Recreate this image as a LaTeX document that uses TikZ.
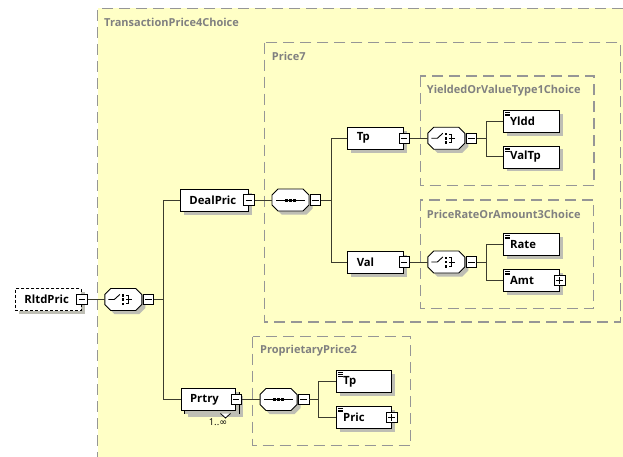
\documentclass[tikz,border=0pt]{standalone}
\usepackage{fontspec}
\setmainfont{Open Sans}
\newfontfamily\dvs{DejaVu Sans}
\usetikzlibrary{shadows}
\definecolor{yel}{RGB}{255,255,198}
\definecolor{dashc}{RGB}{150,150,150}
\definecolor{labc}{RGB}{128,128,128}
\definecolor{shadc}{RGB}{190,190,180}
\definecolor{linec}{RGB}{60,60,45}
\tikzset{
  grp/.style={draw=dashc, line width=1.2pt, dash pattern=on 11pt off 6pt},
  grplab/.style={anchor=west, text=labc, font=\bfseries\fontsize{11}{13}\selectfont, inner sep=0pt},
  elem/.style={draw=black, line width=0.9pt, fill=white, minimum height=22pt, anchor=west,
    align=left, inner xsep=9pt, inner ysep=0pt, font=\bfseries\fontsize{11.3}{13}\selectfont,
    drop shadow={shadow xshift=3.5pt, shadow yshift=-3.5pt, fill=shadc, opacity=1}},
  leaf/.style={elem, inner xsep=7pt,
    path picture={\draw[line width=0.6pt]
      ([shift={(2pt,-2pt)}]path picture bounding box.north west) -- ++(4.5pt,0pt)
      ([shift={(2pt,-3.6pt)}]path picture bounding box.north west) -- ++(4.5pt,0pt)
      ([shift={(2pt,-5.2pt)}]path picture bounding box.north west) -- ++(4.5pt,0pt);}},
  mbox/.style={draw=black, line width=0.7pt, fill=white, minimum size=10.5pt, inner sep=0pt,
    path picture={\draw[line width=0.7pt] ([xshift=2pt]path picture bounding box.west) -- ([xshift=-2pt]path picture bounding box.east);}},
  pbox/.style={draw=black, line width=0.7pt, fill=white, minimum size=10.5pt, inner sep=0pt,
    path picture={\draw[line width=0.7pt] ([xshift=2pt]path picture bounding box.west) -- ([xshift=-2pt]path picture bounding box.east)
      ([yshift=2pt]path picture bounding box.south) -- ([yshift=-2pt]path picture bounding box.north);}},
  compnode/.style={minimum width=37pt, minimum height=22pt, inner sep=0pt},
  conn/.style={draw=linec, line width=1pt},
  symline/.style={line width=0.9pt}
}
\def\octpath{(-12.5,-11) -- (12.5,-11) -- (18.5,-5) -- (18.5,5) -- (12.5,11) -- (-12.5,11) -- (-18.5,5) -- (-18.5,-5) -- cycle}
\newcommand\choicesym{%
  \draw[symline] (-15,0) -- (-9,0) -- (-3.5,-5);
  \fill (-1.5,-5.5) rectangle (1,-3);
  \fill (-1.5,-1.25) rectangle (1,1.25);
  \fill (-1.5,3) rectangle (1,5.5);
  \draw[symline] (2.5,-4.25) -- (5.5,-4.25) -- (5.5,4.25) -- (2.5,4.25);
  \draw[symline] (2.5,0) -- (8.5,0);}
\newcommand\seqsym{%
  \draw[symline] (-14.5,0) -- (14.5,0);
  \fill (-5.5,-1.5) rectangle (-2.5,1.5);
  \fill (-1.5,-1.5) rectangle (1.5,1.5);
  \fill (2.5,-1.5) rectangle (5.5,1.5);}
\newcommand\compo[4]{%
  \begin{scope}[shift={(#2,#3)}]
    \fill[shadc, shift={(3.5,3.5)}] \octpath;
    \draw[line width=0.9pt, fill=white] \octpath;
    \node[compnode] (#1) at (0,0) {};
    #4
  \end{scope}}
\begin{document}
\begin{tikzpicture}[x=1pt, y=-1pt]
\fill[white] (0,0) rectangle (623,457);
\useasboundingbox (0,0) rectangle (623,457);
% groups
\fill[yel] (97.5,8.5) rectangle (623,457);
\draw[grp] (623,8.5) -- (97.5,8.5) -- (97.5,457);
\draw[grp] (264.7,42.7) rectangle (620.7,322);
\draw[grp] (420.3,76) rectangle (594,185.7);
\draw[grp] (420.3,200) rectangle (593.5,308.5);
\draw[grp] (252.7,336.7) rectangle (410.7,445.7);
\node[grplab] (g1) at (104,22.7) {TransactionPrice4Choice};
\node[grplab] (g2) at (271.7,56.7) {Price7};
\node[grplab] (g3) at (426.7,90.7) {YieldedOrValueType1Choice};
\node[grplab] (g4) at (426.7,214) {PriceRateOrAmount3Choice};
\node[grplab] (g5) at (260,350.7) {ProprietaryPrice2};
% elements
\node[elem, text width=48pt, dash pattern=on 3pt off 2pt] (rltd) at (15,299.5) {RltdPric};
\node[elem, text width=50pt] (deal) at (180,200) {DealPric};
\node[elem, text width=38pt] (tp) at (347.3,138.3) {Tp};
\node[elem, text width=38pt] (val) at (347.3,262) {Val};
\node[leaf, text width=42pt] (yldd) at (502.7,121.3) {Yldd};
\node[leaf, text width=42pt] (valtp) at (502.7,157) {ValTp};
\node[leaf, text width=42pt] (rate) at (502.7,244.5) {Rate};
\node[leaf, text width=42pt] (amt) at (502.7,280.5) {Amt};
% Prtry (repeating)
\fill[shadc] (188.2,396) rectangle (242.7,417);
\draw[line width=0.9pt, fill=white] (184.7,392.5) rectangle (239.2,413.5);
\node[elem, text width=36.5pt] (prtry) at (180.7,399.5) {Prtry};
\draw[line width=0.8pt, fill=white] (220.5,413.5) -- (225.5,418) -- (230.5,413.5);
\node[font=\fontsize{9.5}{11}\selectfont, inner sep=0pt] (occ) at (218,422.5) {1..{\dvs ∞}};
\node[leaf, text width=41pt] (tp2) at (335.7,381.7) {Tp};
\node[leaf, text width=41pt] (pric) at (335.7,417.5) {Pric};
% expand boxes
\node[mbox] (rltdm) at (rltd.east) {};
\node[mbox] (dealm) at (deal.east) {};
\node[mbox] (tpm) at (tp.east) {};
\node[mbox] (valm) at (val.east) {};
\node[mbox] (prtrym) at (prtry.east) {};
\node[pbox] (amtp) at (amt.east) {};
\node[pbox] (pricp) at (pric.east) {};
% compositors
\compo{ch1}{123.3}{299.5}{\choicesym}
\compo{seq1}{290.5}{200}{\seqsym}
\compo{ch2}{446.3}{138.3}{\choicesym}
\compo{ch3}{446.3}{262}{\choicesym}
\compo{seq2}{278.6}{399.5}{\seqsym}
\node[mbox] (ch1m) at ([xshift=6.3pt]ch1.east) {};
\node[mbox] (seq1m) at ([xshift=6.3pt]seq1.east) {};
\node[mbox] (ch2m) at ([xshift=6.3pt]ch2.east) {};
\node[mbox] (ch3m) at ([xshift=6.3pt]ch3.east) {};
\node[mbox] (seq2m) at ([xshift=6.3pt]seq2.east) {};
% buses
\coordinate (bus1) at (163.3,0);
\coordinate (bus2) at (331,0);
\coordinate (bus3) at (486.7,0);
\coordinate (bus5) at (318.3,0);
% connectors
\draw[conn] (rltdm.east) -- (ch1.west);
\draw[conn] (ch1m.east) -- (ch1m.east -| bus1);
\draw[conn] (deal.west) -- (deal.west -| bus1) -- (prtry.west -| bus1) -- (prtry.west);
\draw[conn] (dealm.east) -- (seq1.west);
\draw[conn] (seq1m.east) -- (seq1m.east -| bus2);
\draw[conn] (tp.west) -- (tp.west -| bus2) -- (val.west -| bus2) -- (val.west);
\draw[conn] (tpm.east) -- (ch2.west);
\draw[conn] (ch2m.east) -- (ch2m.east -| bus3);
\draw[conn] (yldd.west) -- (yldd.west -| bus3) -- (valtp.west -| bus3) -- (valtp.west);
\draw[conn] (valm.east) -- (ch3.west);
\draw[conn] (ch3m.east) -- (ch3m.east -| bus3);
\draw[conn] (rate.west) -- (rate.west -| bus3) -- (amt.west -| bus3) -- (amt.west);
\draw[conn] (prtrym.east) -- (seq2.west);
\draw[conn] (seq2m.east) -- (seq2m.east -| bus5);
\draw[conn] (tp2.west) -- (tp2.west -| bus5) -- (pric.west -| bus5) -- (pric.west);
\end{tikzpicture}
\end{document}
